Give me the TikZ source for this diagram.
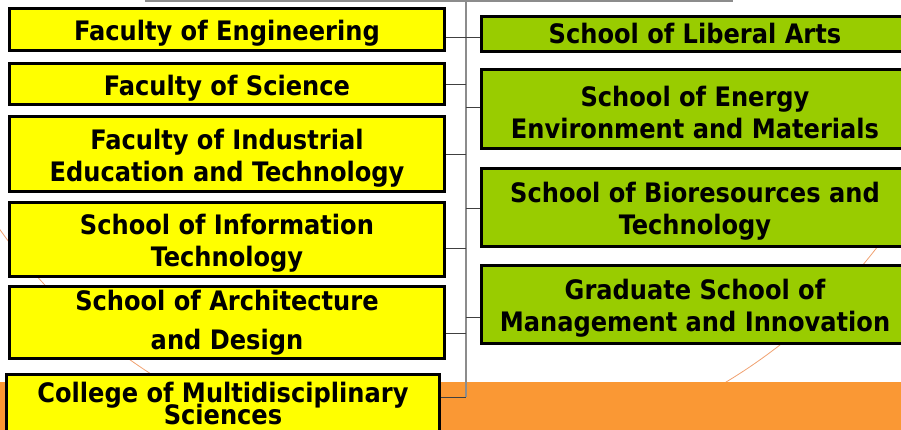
\documentclass[tikz,border=0pt]{standalone}
\usepackage{fontspec}
\newfontfamily\orgfont{DejaVu Sans Condensed}
\definecolor{facyellow}{RGB}{255,255,0}
\definecolor{schgreen}{RGB}{153,204,0}
\definecolor{bandorange}{RGB}{250,152,52}
\definecolor{arcorange}{RGB}{240,160,110}
\newcommand{\lowstrut}{\rule{0pt}{28pt}}

\tikzset{
    facbox/.style={draw, line width=3pt, fill=facyellow, minimum width=435pt,
        align=center, inner sep=2pt,
        font=\orgfont\bfseries\fontsize{26.8}{32}\selectfont},
    schbox/.style={facbox, fill=schgreen, minimum width=427pt},
    trunk/.style={draw=black!45, line width=1.5pt},
    branch/.style={draw=black!75, line width=1pt},
}

\begin{document}
\begin{tikzpicture}[x=1pt, y=-1pt]
    \useasboundingbox (0,0) rectangle (901,430);
    \clip (0,0) rectangle (901,430);

    \draw[arcorange, line width=0.8pt] (445,-85) circle[radius=545];
    \fill[bandorange] (0,382) rectangle (901,430);

    \coordinate (trunktop) at (466,0);
    \coordinate (trunkbot) at (466,397);
    \draw[trunk] (145,1) -- (733,1);
    \draw[trunk] (trunktop) -- (trunkbot);

    \node[facbox, minimum height=42pt] (eng) at (227,29.5) {\lowstrut Faculty of Engineering};
    \node[facbox, minimum height=41pt] (sci) at (227,84) {\lowstrut Faculty of Science};
    \node[facbox, minimum height=75pt] (indus) at (227,154) {\lowstrut Faculty of Industrial\\Education and Technology};
    \node[facbox, minimum height=74pt] (infotech) at (227,239.5) {\lowstrut School of Information\\Technology};
    \node[facbox, minimum height=72pt] (arch) at (227,322.5) {School of Architecture\\[7pt]and Design};
    \node[facbox, minimum height=58pt, minimum width=433pt] (multi) at (223,403.5) {College of Multidisciplinary\\[-10pt]Sciences};

    \node[schbox, minimum height=35pt] (lib) at (695,34) {School of Liberal Arts};
    \node[schbox, minimum height=79pt] (energy) at (695,109) {\lowstrut School of Energy\\Environment and Materials};
    \node[schbox, minimum height=78pt] (bio) at (695,207.5) {\lowstrut School of Bioresources and\\Technology};
    \node[schbox, minimum height=78pt] (gsmi) at (695,304.5) {\lowstrut Graduate School of\\Management and Innovation};

    \draw[branch] ([yshift=-8.5]eng.east) -- ([yshift=-8.5]eng.east -| lib.west);
    \draw[branch] ([yshift=-1]sci.east) -- ([yshift=-1]sci.east -| trunktop);
    \draw[branch] ([yshift=-1]indus.east) -- ([yshift=-1]indus.east -| trunktop);
    \draw[branch] ([yshift=-8.5]infotech.east) -- ([yshift=-8.5]infotech.east -| trunktop);
    \draw[branch] ([yshift=-10.5]arch.east) -- ([yshift=-10.5]arch.east -| trunktop);
    \draw[branch] ([yshift=6.5]multi.east) -- (trunkbot);
    \draw[branch] ([yshift=1]energy.west) -- ([yshift=1]energy.west -| trunktop);
    \draw[branch] ([yshift=-1.5]bio.west) -- ([yshift=-1.5]bio.west -| trunktop);
    \draw[branch] ([yshift=-12.5]gsmi.west) -- ([yshift=-12.5]gsmi.west -| trunktop);
\end{tikzpicture}
\end{document}
